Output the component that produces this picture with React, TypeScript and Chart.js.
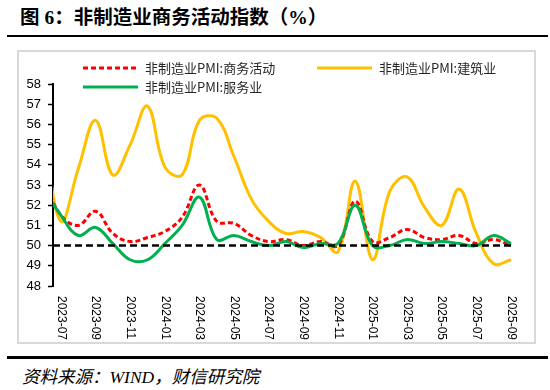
import { useEffect, useRef } from "react";
import { Chart, registerables } from "chart.js";

Chart.register(...registerables);

const months = [
  "2023-06", "2023-07", "2023-08", "2023-09", "2023-10", "2023-11", "2023-12",
  "2024-01", "2024-02", "2024-03", "2024-04", "2024-05", "2024-06", "2024-07",
  "2024-08", "2024-09", "2024-10", "2024-11", "2024-12", "2025-01", "2025-02",
  "2025-03", "2025-04", "2025-05", "2025-06", "2025-07", "2025-08", "2025-09",
];

const tickLabels = [
  "2023-07", "2023-09", "2023-11", "2024-01", "2024-03", "2024-05", "2024-07",
  "2024-09", "2024-11", "2025-01", "2025-03", "2025-05", "2025-07", "2025-09",
];

const businessActivity = [
  53.2, 51.5, 51.0, 51.7, 50.6, 50.2, 50.4, 50.7, 51.4, 53.0, 51.2, 51.1, 50.5, 50.2,
  50.3, 50.0, 50.2, 50.0, 52.2, 50.2, 50.4, 50.8, 50.4, 50.3, 50.5, 50.1, 50.3, 50.0,
];

const construction = [
  55.7, 51.2, 53.8, 56.2, 53.5, 55.0, 56.9, 53.9, 53.5, 56.2, 56.3, 54.4, 52.3, 51.2,
  50.6, 50.7, 50.4, 49.7, 53.2, 49.3, 52.7, 53.4, 51.9, 51.0, 52.8, 50.6, 49.1, 49.3,
];

const services = [
  52.8, 51.5, 50.5, 50.9, 50.1, 49.3, 49.3, 50.1, 51.0, 52.4, 50.3, 50.5, 50.2, 50.0,
  50.2, 49.9, 50.1, 50.1, 52.0, 50.0, 50.0, 50.3, 50.1, 50.2, 50.1, 50.0, 50.5, 50.1,
];

const seriesNames = ["非制造业PMI:商务活动", "非制造业PMI:建筑业", "非制造业PMI:服务业"];
const baseline = 50;
const yMin = 48;
const yMax = 58;

const RED = "#FF0000";
const YELLOW = "#FFC000";
const GREEN = "#00B050";

const toPoints = (arr: number[]) => arr.map((v, i) => ({ x: i, y: v }));

const overlayPlugin = {
  id: "overlay",
  afterDatasetsDraw(chart: any) {
    const { ctx, chartArea, scales } = chart;
    const y50 = scales.y.getPixelForValue(baseline);
    ctx.save();
    ctx.strokeStyle = "#000";
    ctx.lineWidth = 2.5;
    ctx.setLineDash([7, 4]);
    ctx.beginPath();
    ctx.moveTo(chartArea.left, y50);
    ctx.lineTo(chartArea.right, y50);
    ctx.stroke();
    ctx.restore();
  },
  afterDraw(chart: any) {
    const { ctx, chartArea, scales } = chart;
    ctx.save();
    // x labels, rotated clockwise
    ctx.fillStyle = "#000";
    ctx.font = "12px 'Liberation Sans', Arial, sans-serif";
    ctx.textAlign = "left";
    ctx.textBaseline = "middle";
    tickLabels.forEach((lab) => {
      const idx = months.indexOf(lab);
      const x = scales.x.getPixelForValue(idx);
      ctx.save();
      ctx.translate(x, chartArea.bottom + 10);
      ctx.rotate(Math.PI / 2);
      ctx.fillText(lab, 0, 0);
      ctx.restore();
    });

    // legend
    const items = [
      { name: seriesNames[0], color: RED, dash: [5, 3], x: 64, y: 16 },
      { name: seriesNames[1], color: YELLOW, dash: [], x: 298, y: 16 },
      { name: seriesNames[2], color: GREEN, dash: [], x: 64, y: 35 },
    ];
    ctx.font = "13px 'Noto Sans CJK SC', sans-serif";
    ctx.textBaseline = "middle";
    items.forEach((it) => {
      ctx.save();
      ctx.strokeStyle = it.color;
      ctx.lineWidth = 3;
      ctx.lineCap = "butt";
      ctx.setLineDash(it.dash);
      ctx.beginPath();
      ctx.moveTo(it.x, it.y);
      ctx.lineTo(it.x + 55, it.y);
      ctx.stroke();
      ctx.restore();
      ctx.fillStyle = "#262626";
      ctx.fillText(it.name, it.x + 62, it.y + 0.5);
    });
    ctx.restore();
  },
};

export default function App() {
  const canvasRef = useRef<HTMLCanvasElement | null>(null);

  useEffect(() => {
    if (!canvasRef.current) return;
    const chart = new Chart(canvasRef.current, {
      type: "line",
      data: {
        datasets: [
          {
            label: seriesNames[2],
            data: toPoints(services),
            borderColor: GREEN,
            borderWidth: 3,
            tension: 0.4,
            pointRadius: 0,
            fill: false,
            order: 0,
            clip: { left: 0, right: 3, top: 5, bottom: 5 },
          },
          {
            label: seriesNames[0],
            data: toPoints(businessActivity),
            borderColor: RED,
            borderWidth: 3,
            borderDash: [5, 3],
            tension: 0.4,
            pointRadius: 0,
            fill: false,
            order: 1,
            clip: { left: 0, right: 3, top: 5, bottom: 5 },
          },
          {
            label: seriesNames[1],
            data: toPoints(construction),
            borderColor: YELLOW,
            borderWidth: 3,
            tension: 0.4,
            pointRadius: 0,
            fill: false,
            order: 2,
            clip: { left: 0, right: 3, top: 5, bottom: 5 },
          },
        ] as any,
      },
      options: {
        responsive: false,
        animation: false,
        devicePixelRatio: 1,
        layout: { padding: { left: 0, top: 32, right: 19, bottom: 56 } },
        plugins: { legend: { display: false }, tooltip: { enabled: false }, title: { display: false } },
        scales: {
          x: {
            type: "linear",
            display: false,
            min: 0.54,
            max: 27.23,
          },
          y: {
            min: yMin,
            max: yMax,
            ticks: {
              stepSize: 1,
              color: "#000",
              padding: 7,
              font: { family: "'Liberation Sans', Arial, sans-serif", size: 13 },
            },
            grid: {
              drawOnChartArea: false,
              drawTicks: true,
              tickLength: 5,
              tickColor: "#000",
              tickWidth: 1.5,
            },
            border: { display: true, color: "#000", width: 2 },
            afterFit(scale: any) {
              scale.width = 34;
            },
          },
        },
      } as any,
      plugins: [overlayPlugin],
    });
    return () => chart.destroy();
  }, []);

  return (
    <div
      style={{
        position: "fixed",
        left: 0,
        top: 0,
        width: 550,
        height: 390,
        background: "#fff",
        overflow: "hidden",
      }}
    >
      <div
        style={{
          position: "absolute",
          left: 20,
          top: 5,
          fontFamily: "'Liberation Serif', 'Noto Sans CJK SC', serif",
          fontWeight: "bold",
          fontSize: 19.5,
          lineHeight: "26px",
          color: "#000",
          whiteSpace: "nowrap",
        }}
      >
        图 6：非制造业商务活动指数（%）
      </div>
      <div style={{ position: "absolute", left: 7, top: 35, width: 541, height: 2, background: "#000" }} />
      <div
        style={{
          position: "absolute",
          left: 17,
          top: 50,
          width: 515,
          height: 290,
          border: "2px solid #d9d9d9",
        }}
      >
        <canvas ref={canvasRef} width={515} height={290} style={{ display: "block" }} />
      </div>
      <div style={{ position: "absolute", left: 7, top: 356, width: 541, height: 3, background: "#000" }} />
      <div
        style={{
          position: "absolute",
          left: 22,
          top: 365,
          fontFamily: "'Liberation Serif', 'Noto Sans CJK SC', serif",
          fontStyle: "italic",
          fontSize: 17.5,
          lineHeight: "24px",
          color: "#000",
          whiteSpace: "nowrap",
        }}
      >
        资料来源：WIND，财信研究院
      </div>
    </div>
  );
}
